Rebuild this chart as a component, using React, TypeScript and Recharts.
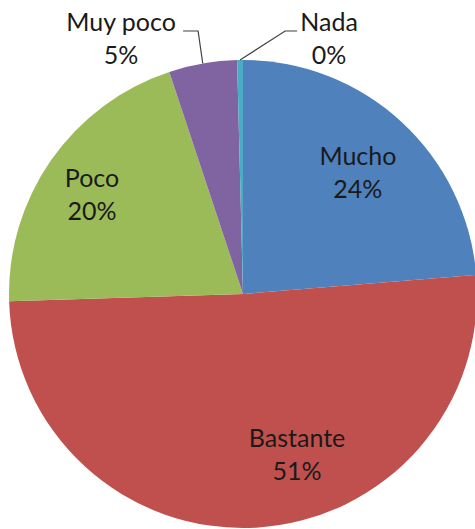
import { PieChart, Pie, Cell } from "recharts"

const categories = ["Mucho", "Bastante", "Poco", "Muy poco", "Nada"]
const values = [23.7, 50.8, 20.4, 4.7, 0.4]
const colors = ["#4f81bd", "#c0504d", "#9bbb59", "#8064a2", "#4bacc6"]

// label anchor (first baseline, text centre) relative to pie centre, in units of radius
const labelOffsets = [
  [0.491, -0.551],
  [0.231, 0.654],
  [-0.645, -0.457],
  [-0.521, -1.124],
  [0.368, -1.124],
]
// outside labels: leader elbow x offset from text centre, and where the line meets the text
const leaders: Record<number, { elbow: number; end: number }> = {
  3: { elbow: 77, end: 62 },
  4: { elbow: -44, end: -32 },
}

const data = categories.map((name, i) => ({ name, value: values[i] }))

const RAD = Math.PI / 180
const FONT = "Lato, 'Open Sans', sans-serif"

const renderLabel = (props: any) => {
  const { cx, cy, midAngle, outerRadius, percent, index, name } = props
  const [ox, oy] = labelOffsets[index]
  const x = cx + ox * outerRadius
  const y = cy + oy * outerRadius
  const lead = leaders[index]
  let line = null
  if (lead) {
    const ax = cx + outerRadius * Math.cos(-midAngle * RAD)
    const ay = cy + outerRadius * Math.sin(-midAngle * RAD)
    const ly = y
    line = (
      <polyline
        points={`${ax},${ay} ${x + lead.elbow},${ly} ${x + lead.end},${ly}`}
        fill="none"
        stroke="#404040"
        strokeWidth={1.2}
      />
    )
  }
  return (
    <g key={`lbl-${index}`}>
      {line}
      <text x={x} y={y} textAnchor="middle" fill="#1a1a1a" fontFamily={FONT} fontSize={25}>
        <tspan x={x} y={y}>{name}</tspan>
        <tspan x={x} y={y + 33}>{`${Math.round(percent * 100)}%`}</tspan>
      </text>
    </g>
  )
}

export default function App() {
  return (
    <div style={{ position: "absolute", left: 0, top: 0, width: 475, height: 529, background: "#fff" }}>
      <PieChart width={475} height={529} margin={{ top: 0, right: 0, bottom: 0, left: 0 }}>
        <Pie
          data={data}
          dataKey="value"
          nameKey="name"
          cx={243}
          cy={294}
          outerRadius={234}
          startAngle={90}
          endAngle={-270}
          stroke="none"
          label={renderLabel}
          labelLine={false}
          isAnimationActive={false}
        >
          {data.map((d, i) => (
            <Cell key={d.name} fill={colors[i]} />
          ))}
        </Pie>
      </PieChart>
    </div>
  )
}
